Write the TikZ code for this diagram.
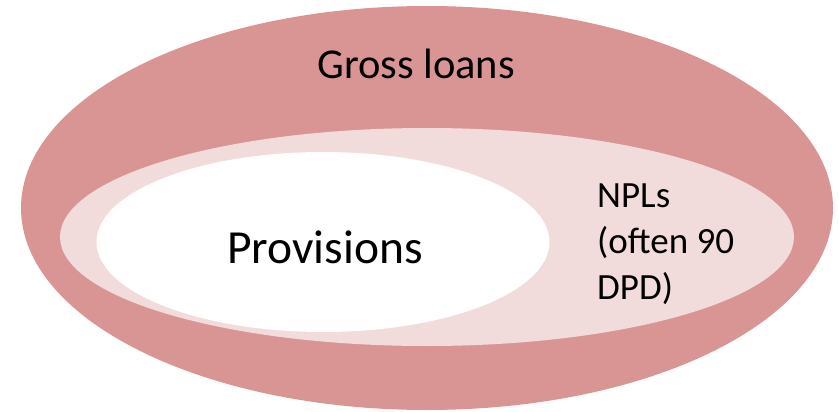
\documentclass[tikz,border=0pt]{standalone}
\usepackage{fontspec}
\setmainfont{Carlito}
\usetikzlibrary{shapes.geometric}
\definecolor{grossfill}{HTML}{D99594}
\definecolor{nplfill}{HTML}{F2DCDB}
\tikzset{
    % Plain filled ellipse with no outline
    loan set/.style={ellipse, inner sep=0, line width=0, fill=#1},
%
    % Labels inside the sets
    big label/.style={font=\fontsize{#1}{50}\selectfont, inner sep=0},
    small label/.style={font=\fontsize{37}{46}\selectfont, inner sep=0,
        align=left}}

\begin{document}
\begin{tikzpicture}[x=1pt, y=-1pt]

\useasboundingbox (0,0) rectangle (839,412);

\node (gross) [loan set=grossfill, minimum width=812, minimum height=404]
    at (427,208) {};
\node (npl) [loan set=nplfill, minimum width=734, minimum height=218]
    at (427,237) {};
\node (prov) [loan set=white, minimum width=453, minimum height=180]
    at (323,242) {};

\node (grosslbl) [big label=42.5, anchor=base west] at (317,79) {Gross loans};
\node (provlbl) [big label=47.5, anchor=base west] at (227,263) {Provisions};
\node (npllbl) [small label, anchor=north west] at (597,184)
    {NPLs\\(often 90\\DPD)};

\end{tikzpicture}
\end{document}
